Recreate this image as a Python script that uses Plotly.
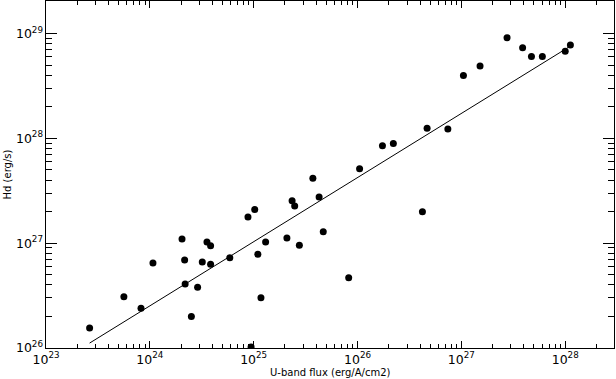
#!/usr/bin/env python

import numpy as np
import plotly.graph_objects as go

# log10 of U-band flux (erg/A/cm2) and Hd luminosity (erg/s)
log_flux = [23.42, 23.75, 23.915, 24.03, 24.31, 24.335, 24.34, 24.40, 24.46, 24.505,
            24.55, 24.585, 24.585, 24.77, 24.945, 25.01, 24.975, 25.04, 25.07, 25.115,
            25.32, 25.37, 25.395, 25.44, 25.63, 25.67, 25.915, 26.625, 25.57, 26.02,
            26.24, 26.345, 26.67, 26.87, 27.02, 27.18, 27.44, 27.59, 27.675, 27.78,
            28.00, 28.05]
log_hd = [26.19, 26.49, 26.38, 26.81, 27.04, 26.84, 26.61, 26.30, 26.58, 26.82,
          27.01, 26.975, 26.80, 26.86, 27.25, 27.32, 26.01, 26.895, 26.48, 27.01,
          27.05, 27.405, 27.355, 26.98, 27.44, 27.11, 26.67, 27.30, 27.62, 27.71,
          27.93, 27.95, 28.095, 28.09, 28.60, 28.69, 28.96, 28.865, 28.78, 28.78,
          28.83, 28.89]

# fitted power law, endpoints
fit_log_flux = [23.42, 28.05]
fit_log_hd = [26.047, 28.88]

flux = 10.0 ** np.array(log_flux)
hd = 10.0 ** np.array(log_hd)

fig = go.Figure()
fig.add_trace(go.Scatter(x=10.0 ** np.array(fit_log_flux), y=10.0 ** np.array(fit_log_hd),
                         mode="lines", line=dict(color="black", width=1)))
fig.add_trace(go.Scatter(x=flux, y=hd, mode="markers",
                         marker=dict(color="black", size=7)))

font = dict(family="DejaVu Sans", size=10, color="black")

fig.update_xaxes(type="log", range=[23, 28.47],
                 dtick=1, exponentformat="power",
                 ticks="inside", ticklen=7, tickcolor="black", tickwidth=1,
                 minor=dict(ticks="inside", ticklen=4, tickcolor="black", dtick="D1"),
                 showline=True, linecolor="black", mirror="ticks",
                 gridcolor="rgba(0,0,0,0)", tickfont=font)
fig.update_yaxes(type="log", range=[26, 29.31],
                 dtick=1, exponentformat="power",
                 ticks="inside", ticklen=11, tickcolor="black", tickwidth=1,
                 minor=dict(ticks="inside", ticklen=6, tickcolor="black", dtick="D1"),
                 showline=True, linecolor="black", mirror="ticks",
                 gridcolor="rgba(0,0,0,0)", tickfont=font)

fig.add_annotation(text="U-band flux (erg/A/cm2)", xref="paper", yref="paper",
                   x=0.5, y=-0.05, yanchor="top", showarrow=False, font=font)
fig.add_annotation(text="Hd (erg/s)", xref="paper", yref="paper", textangle=-90,
                   x=-0.067, y=0.5, xanchor="center", showarrow=False, font=font)

fig.update_layout(width=616, height=379, showlegend=False,
                  margin=dict(l=46, r=2, t=1, b=31, autoexpand=False),
                  plot_bgcolor="white", paper_bgcolor="white", font=font)

# drop the page's default body margin so the figure sits at the window corner
fig.write_html("out.html", config={"displayModeBar": False},
               post_script="document.body.style.margin='0';")
